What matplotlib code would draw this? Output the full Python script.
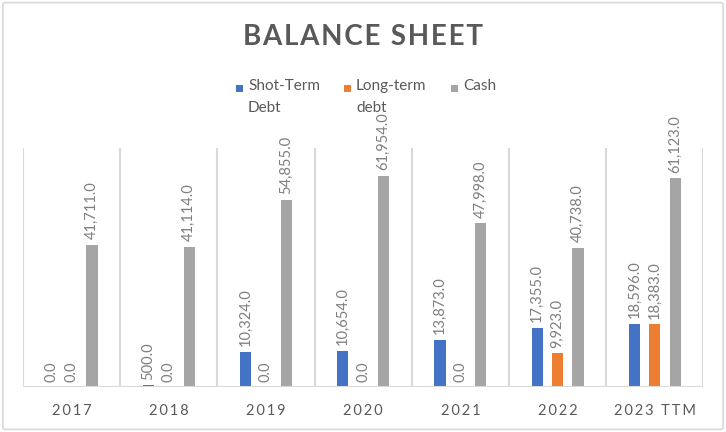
import matplotlib
matplotlib.use("Agg")
import matplotlib.pyplot as plt
import numpy as np
from matplotlib.patches import Rectangle, FancyBboxPatch

years = ["2017", "2018", "2019", "2020", "2021", "2022", "2023 TTM"]
short_term_debt = [0.0, 500.0, 10324.0, 10654.0, 13873.0, 17355.0, 18596.0]
long_term_debt = [0.0, 0.0, 0.0, 0.0, 0.0, 9923.0, 18383.0]
cash = [41711.0, 41114.0, 54855.0, 61954.0, 47998.0, 40738.0, 61123.0]
series_names = ["Shot-Term\nDebt", "Long-term\ndebt", "Cash"]
colors = ["#4472C4", "#ED7D31", "#A5A5A5"]

plt.rcParams['font.family'] = ['Lato', 'DejaVu Sans']

fig = plt.figure(figsize=(7.26, 4.32), dpi=100)
fig.patches.append(FancyBboxPatch((0.004, 0.006), 0.992, 0.988,
                                  boxstyle="round,pad=0,rounding_size=0.004",
                                  transform=fig.transFigure, fill=False,
                                  edgecolor="#D9D9D9", linewidth=1.2))
ax = fig.add_axes([0.0317, 0.104, 0.937, 0.553])

x = np.arange(len(years))
width = 0.115
offsets = [-0.21, 0.0, 0.21]
data = [short_term_debt, long_term_debt, cash]
for vals, off, col in zip(data, offsets, colors):
    bars = ax.bar(x + off, vals, width=width, color=col, zorder=3)
    for b, v in zip(bars, vals):
        ax.annotate(f"{v:,.1f}", (b.get_x() + b.get_width() / 2, b.get_height()),
                    xytext=(0, 4), textcoords="offset points", rotation=90,
                    ha="center", va="bottom", fontsize=10.5, color="#7F7F7F",
                    annotation_clip=False, clip_on=False)

ax.set_xlim(-0.5, len(years) - 0.5)
ax.set_ylim(0, 70000)
for b in np.arange(-0.5, len(years), 1.0):
    ax.axvline(b, color="#D9D9D9", linewidth=1.5, zorder=1)
for s in ax.spines.values():
    s.set_visible(False)
ax.axhline(0, color="#D9D9D9", linewidth=1.5, zorder=4)
ax.set_yticks([])
ax.set_xticks(x)
ax.set_xticklabels(["\u2009".join(list(y)) for y in years],
                   fontsize=10.5, color="#595959")
ax.tick_params(axis="x", length=0, pad=12)

fig.text(0.5, 0.915, "\u200a".join(list("BALANCE SHEET")), ha="center", va="center",
         fontsize=20, fontweight="bold", color="#595959")

# legend
leg_x = [236, 344, 451]
for name, col, lx in zip(series_names, colors, leg_x):
    fig.patches.append(Rectangle((lx / 726, 1 - 92 / 432), 7 / 726, 7 / 432,
                                 transform=fig.transFigure, facecolor=col,
                                 edgecolor="none"))
    fig.text((lx + 12) / 726, 1 - 79 / 432, name, ha="left", va="top",
             fontsize=11, color="#595959", linespacing=1.75)

fig.savefig("out.png", dpi=100)
